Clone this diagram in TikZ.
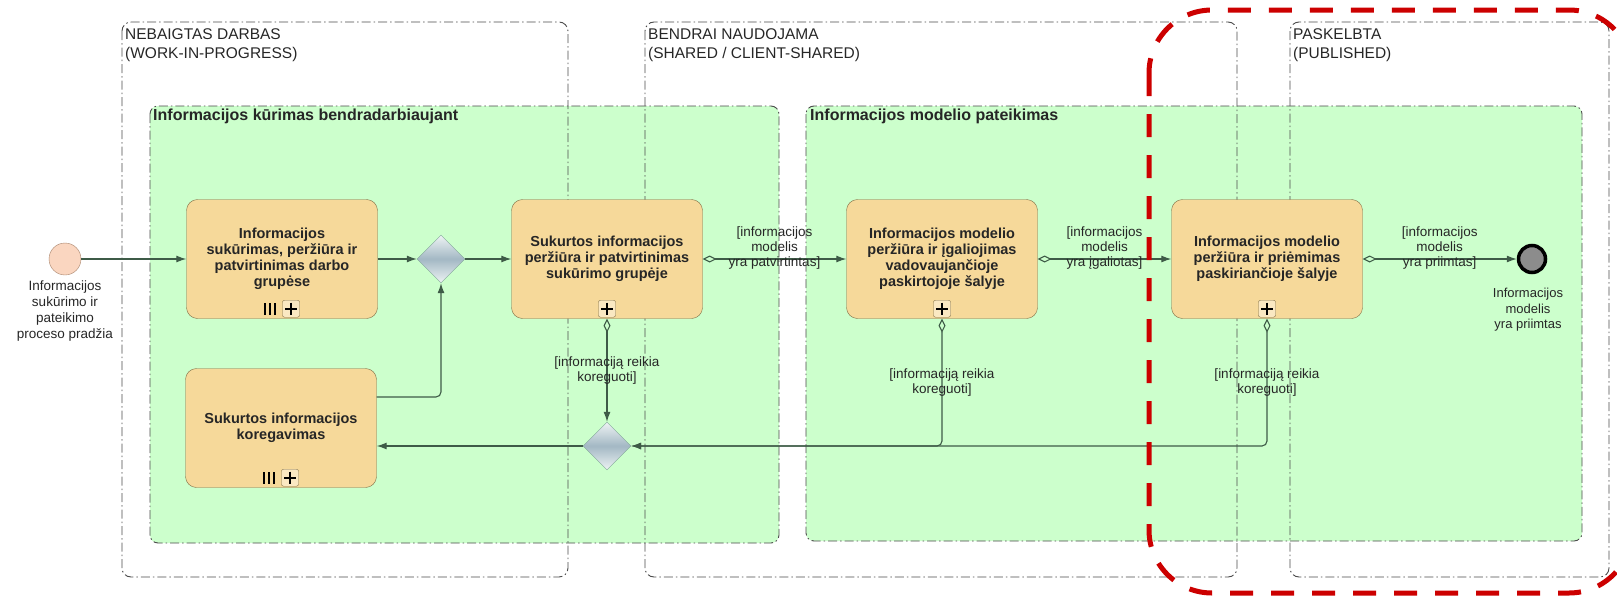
\documentclass[tikz,border=0pt]{standalone}
\usepackage{fontspec}
\setmainfont{Liberation Sans}
\usetikzlibrary{shapes.geometric,arrows.meta}

\definecolor{poolgreen}{HTML}{CCFFCC}
\definecolor{taskfill}{HTML}{F6D99A}
\definecolor{taskdraw}{HTML}{7E6D45}
\definecolor{flowcol}{HTML}{3E5B47}
\definecolor{lanecol}{HTML}{4A4A4A}
\definecolor{startfill}{HTML}{FAD6C0}
\definecolor{startdraw}{HTML}{A5826A}
\definecolor{gatedraw}{HTML}{7FA696}
\definecolor{gatemid}{HTML}{A3B8C4}
\definecolor{gateedge}{HTML}{EEF3F4}
\definecolor{redmark}{HTML}{CC0000}

\begin{document}
\begin{tikzpicture}[x=1pt,y=-1pt,
   task/.style={draw=taskdraw,fill=taskfill,rounded corners=11pt,minimum width=191pt,minimum height=119pt,
     align=center,text=black!85,font=\fontsize{14.5}{16}\selectfont\bfseries,inner sep=2pt},
   gate/.style={diamond,draw=gatedraw,top color=gateedge,bottom color=gateedge,middle color=gatemid,
     minimum width=48pt,minimum height=48pt,inner sep=0pt},
   flow/.style={draw=flowcol,line width=1.1pt,-{Latex[length=10pt,width=7pt]}},
   cond/.style={flow,{Diamond[open,length=14pt,width=7pt]}-{Latex[length=10pt,width=7pt]}},
   lbl/.style={font=\fontsize{13.5}{15}\selectfont,text=black!85,align=center,inner sep=0pt},
   lane/.style={draw=lanecol,line width=0.9pt,dash pattern=on 9pt off 3pt on 1.5pt off 3pt,rounded corners=9pt},
   sub/.style={lane,fill=poolgreen,rounded corners=8pt},
   hdr/.style={anchor=north west,align=left,text=black!85,font=\fontsize{15.5}{19}\selectfont,inner sep=0pt},
   subhdr/.style={anchor=west,text=black!85,font=\fontsize{16}{18}\selectfont\bfseries,inner sep=0pt},
   plusbox/.style={draw=taskdraw,fill=taskfill!60!white,rounded corners=2pt,minimum size=17pt,inner sep=0pt,
     path picture={\draw[black,line width=2.4pt] (path picture bounding box.center) ++(-6,0) -- ++(12,0)
       (path picture bounding box.center) ++(0,-6) -- ++(0,12);}},
 ]
   \useasboundingbox (0,0) rectangle (1617,597);

   \draw[sub] (150,106) rectangle (779,543);
   \draw[sub] (806,106) rectangle (1582,541);
   \draw[lane] (122,22) rectangle (568,577);
   \draw[lane] (645,22) rectangle (1237,577);
   \draw[lane] (1290,22) rectangle (1609,577);

   \node[hdr] (hwip) at (125,28) {NEBAIGTAS DARBAS\\(WORK-IN-PROGRESS)};
   \node[hdr] (hshared) at (648,28) {BENDRAI NAUDOJAMA\\(SHARED / CLIENT-SHARED)};
   \node[hdr] (hpub) at (1293,28) {PASKELBTA\\(PUBLISHED)};
   \node[subhdr] (hsub1) at (153,116) {Informacijos kūrimas bendradarbiaujant};
   \node[subhdr] (hsub2) at (810,116) {Informacijos modelio pateikimas};

   \node[circle,draw=startdraw,fill=startfill,minimum size=32pt,inner sep=0pt] (start) at (65,259) {};
   \node[lbl,font=\fontsize{13.5}{15.7}\selectfont] (startlbl) at (65,311) {Informacijos\\sukūrimo ir\\pateikimo\\proceso pradžia};
   \node[task] (t1) at (282,259) {Informacijos\\sukūrimas, peržiūra ir\\patvirtinimas darbo\\grupėse};
   \node[gate] (g1) at (441,259) {};
   \node[task] (t2) at (607,259) {Sukurtos informacijos\\peržiūra ir patvirtinimas\\sukūrimo grupėje};
   \node[task] (t3) at (942,259) {Informacijos modelio\\peržiūra ir įgaliojimas\\vadovaujančioje\\paskirtojoje šalyje};
   \node[task] (t4) at (1267,259) {Informacijos modelio\\peržiūra ir priėmimas\\paskiriančioje šalyje};
   \node[circle,draw=black,line width=3.5pt,fill=gray!90!white,minimum size=27pt,inner sep=0pt] (end) at (1532,259) {};
   \node[lbl,font=\fontsize{13}{15.5}\selectfont] (endlbl) at (1528,310) {Informacijos\\modelis\\yra priimtas};
   \node[task] (t5) at (281,428) {Sukurtos informacijos\\koregavimas};
   \node[gate] (g2) at (607,446) {};

   \node[plusbox] (t1p) at ([xshift=9pt,yshift=10pt]t1.south) {};
   \node[plusbox] (t2p) at ([yshift=10pt]t2.south) {};
   \node[plusbox] (t3p) at ([yshift=10pt]t3.south) {};
   \node[plusbox] (t4p) at ([yshift=10pt]t4.south) {};
   \node[plusbox] (t5p) at ([xshift=9pt,yshift=10pt]t5.south) {};
   \draw[line width=2.6pt] ([xshift=-17pt,yshift=4pt]t1.south) -- ++(0,-12) ([xshift=-12pt,yshift=4pt]t1.south) -- ++(0,-12)
     ([xshift=-7pt,yshift=4pt]t1.south) -- ++(0,-12);
   \draw[line width=2.6pt] ([xshift=-17pt,yshift=4pt]t5.south) -- ++(0,-12) ([xshift=-12pt,yshift=4pt]t5.south) -- ++(0,-12)
     ([xshift=-7pt,yshift=4pt]t5.south) -- ++(0,-12);

   \path (start) edge[flow] (t1);
   \path (t1) edge[flow] (g1);
   \path (g1) edge[flow] (t2);
   \path (t2) edge[cond] node[lbl,yshift=11pt] {[informacijos\\modelis\\yra patvirtintas]} (t3);
   \path (t3) edge[cond] node[lbl,yshift=11pt] {[informacijos\\modelis\\yra įgaliotas]} (t4);
   \path (t4) edge[cond] node[lbl,yshift=11pt] {[informacijos\\modelis\\yra priimtas]} (end);
   \draw[cond] (t2) -- node[lbl] {[informaciją reikia\\koreguoti]} (g2);
   \draw[cond,rounded corners=5pt] (t3.south) |- node[lbl,pos=0.25] {[informaciją reikia\\koreguoti]} (g2.east);
   \draw[cond,rounded corners=5pt] (t4.south) |- node[lbl,pos=0.25] {[informaciją reikia\\koreguoti]} (g2.east);
   \draw[flow] (g2.west) -- (g2.west -| t5.east);
   \draw[flow,rounded corners=5pt] ([yshift=31pt]t5.east) -| (g1.south);

   \draw[redmark,line width=5pt,dash pattern=on 23pt off 18pt,rounded corners=63pt] (1149,10) rectangle (1632,593);
\end{tikzpicture}
\end{document}
